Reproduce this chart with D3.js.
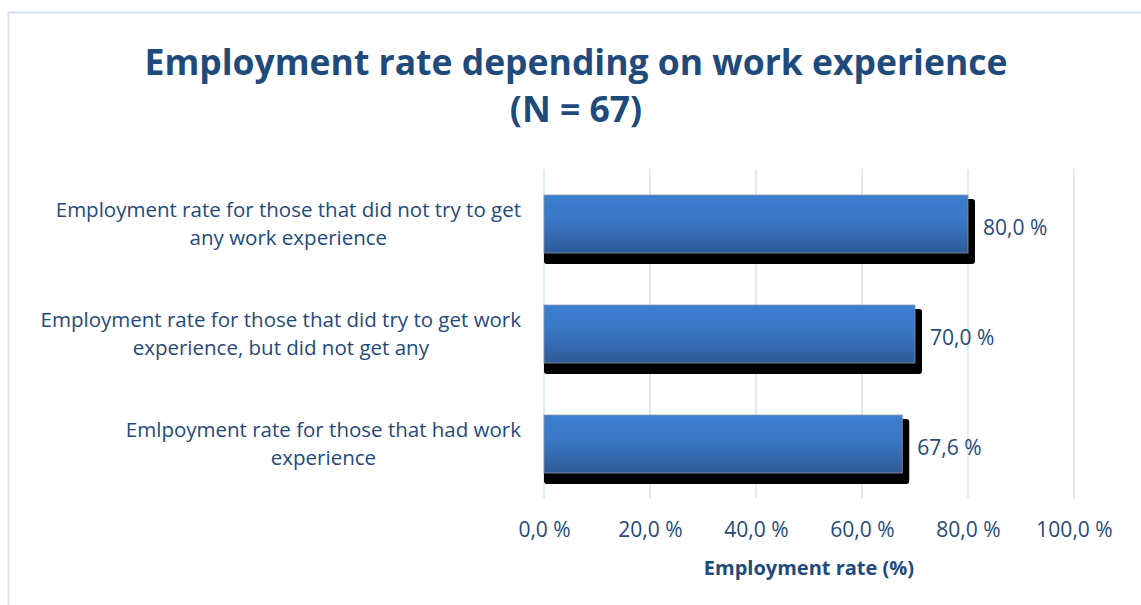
<!DOCTYPE html>
<html>
<head>
<meta charset="utf-8">
<script src="https://cdn.jsdelivr.net/npm/d3@7"></script>
<style>
  html, body { margin: 0; padding: 0; background: #fff; }
  svg { display: block; }
</style>
</head>
<body>
<svg id="chart" width="1141" height="605"></svg>
<script>
// Categories (top to bottom) and their employment rates in %
const categories = [
  ["Employment rate for those that did not try to get", "any work experience"],
  ["Employment rate for those that did try to get work", "experience, but did not get any"],
  ["Emlpoyment rate for those that had work", "experience"]
];
const rates = [80.0, 70.0, 67.6];
const tickValues = [0, 20, 40, 60, 80, 100];
const titleLines = ["Employment rate depending on work experience", "(N = 67)"];
const axisTitle = "Employment rate (%)";

const W = 1141, H = 605;
const textColor = "#1f4a7c";
const gridColor = "#d9e4f2";
const font = "'Open Sans', 'Noto Sans', 'DejaVu Sans', sans-serif";

const svg = d3.select("#chart");

// gradient for the bar fill
const defs = svg.append("defs");
const grad = defs.append("linearGradient")
  .attr("id", "barFill").attr("x1", 0).attr("y1", 0).attr("x2", 0).attr("y2", 1);
grad.append("stop").attr("offset", "0%").attr("stop-color", "#3c7ed1");
grad.append("stop").attr("offset", "45%").attr("stop-color", "#3a76c4");
grad.append("stop").attr("offset", "100%").attr("stop-color", "#2d5a97");

// chart frame
svg.append("rect")
  .attr("x", 8.5).attr("y", 12.5).attr("width", W + 10).attr("height", H + 10)
  .attr("fill", "#fff").attr("stroke", "#d5e2f2").attr("stroke-width", 2);

// title
svg.append("g").selectAll("text").data(titleLines).join("text")
  .attr("x", 576).attr("y", (d, i) => 75 + i * 47)
  .attr("text-anchor", "middle")
  .attr("font-family", font).attr("font-weight", "bold").attr("font-size", 35.5)
  .attr("fill", textColor)
  .text(d => d);

// scales
const x = d3.scaleLinear().domain([0, 100]).range([544, 1074]);
const y = d3.scaleBand().domain(d3.range(categories.length))
  .range([169, 499]).paddingInner(0.473).paddingOuter(0.2365);

// vertical gridlines
svg.append("g").selectAll("line").data(tickValues).join("line")
  .attr("x1", d => x(d)).attr("x2", d => x(d))
  .attr("y1", 169).attr("y2", 498)
  .attr("stroke", gridColor).attr("stroke-width", 1.6);

// x axis tick labels
const xAxis = d3.axisBottom(x).tickValues(tickValues)
  .tickSize(0).tickPadding(0)
  .tickFormat(d => d.toFixed(1).replace(".", ",") + " %");
const ax = svg.append("g").attr("transform", "translate(0,522.5)").call(xAxis);
ax.select(".domain").remove();
ax.selectAll("text")
  .attr("font-family", font).attr("font-size", 21).attr("fill", textColor)
  .attr("dy", "0.71em");

// axis title
svg.append("text")
  .attr("x", (x(0) + x(100)) / 2).attr("y", 575)
  .attr("text-anchor", "middle")
  .attr("font-family", font).attr("font-weight", "bold").attr("font-size", 20)
  .attr("fill", textColor)
  .text(axisTitle);

// bars: shadow, then gradient body
const bars = svg.append("g").selectAll("g").data(rates).join("g");
bars.append("rect")
  .attr("x", x(0))
  .attr("y", (d, i) => y(i) + 4)
  .attr("width", d => x(d) - x(0) + 7)
  .attr("height", y.bandwidth() + 7)
  .attr("rx", 3)
  .attr("fill", "#000");
bars.append("rect")
  .attr("x", x(0))
  .attr("y", (d, i) => y(i))
  .attr("width", d => x(d) - x(0))
  .attr("height", y.bandwidth())
  .attr("fill", "url(#barFill)")
  .attr("stroke", "#8d99a8").attr("stroke-width", 0.8);

// value labels
bars.append("text")
  .attr("x", d => x(d) + 15)
  .attr("y", (d, i) => y(i) + y.bandwidth() / 2 + 11)
  .attr("font-family", font).attr("font-size", 21).attr("fill", textColor)
  .text(d => d.toFixed(1).replace(".", ",") + " %");

// category labels: block right-aligned, each line centred in the block
const labelRight = 521;
const cats = svg.append("g").selectAll("g").data(categories).join("g");
cats.each(function (lines, i) {
  const g = d3.select(this);
  const texts = g.selectAll("text").data(lines).join("text")
    .attr("font-family", font).attr("font-size", 20.5).attr("fill", textColor)
    .attr("text-anchor", "middle")
    .attr("y", (d, j) => y(i) + y.bandwidth() / 2 - 7 + j * 28)
    .text(d => d);
  let maxW = 0;
  texts.each(function () { maxW = Math.max(maxW, this.getComputedTextLength()); });
  texts.attr("x", labelRight - maxW / 2);
});
</script>
</body>
</html>
